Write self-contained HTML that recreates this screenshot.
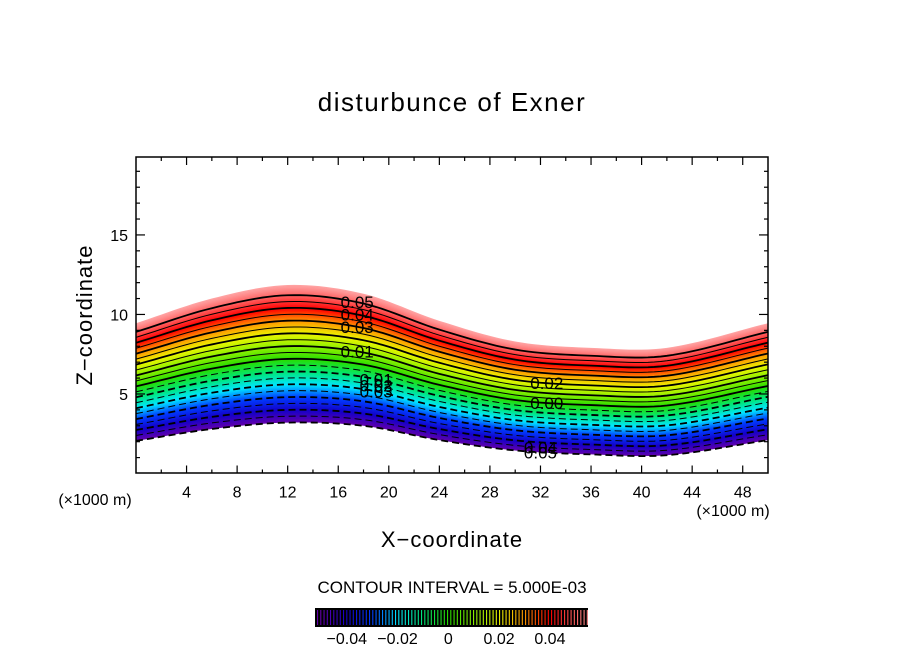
<!DOCTYPE html>
<html><head><meta charset="utf-8"><style>
body{margin:0;background:#fff}
svg{display:block;font-family:"Liberation Sans","DejaVu Sans",sans-serif}
</style></head><body>
<svg id="chart" width="904" height="654" viewBox="0 0 904 654" xmlns="http://www.w3.org/2000/svg">
<text x="452" y="111" font-size="26" text-anchor="middle" letter-spacing="1.5">disturbunce of Exner</text>
<g id="plot"></g>
<rect x="136" y="157" width="632" height="316" fill="none" stroke="#000" stroke-width="1.5"/>
<g id="axes"></g>
<text transform="translate(92,315) rotate(-90)" font-size="22" text-anchor="middle" letter-spacing="1">Z−coordinate</text>
<text x="452" y="547" font-size="22" text-anchor="middle" letter-spacing="1">X−coordinate</text>
<text x="95" y="505" font-size="16" text-anchor="middle">(×1000 m)</text>
<text x="733" y="516" font-size="16" text-anchor="middle">(×1000 m)</text>
<text x="452" y="593" font-size="17" text-anchor="middle">CONTOUR INTERVAL = 5.000E-03</text>
<g id="cbar"></g>
</svg>
<script>
// data
const xSamples=[0,6,12,18,24,30,36,42,50];
const topZ=[9.45,11.0,11.85,11.3,9.6,8.3,7.9,7.9,9.45];
const botZ=[2.05,2.8,3.2,3.0,2.1,1.45,1.2,1.15,2.1];
const vMin=-0.05, vMax=0.058;
const levels=[-0.05,-0.045,-0.04,-0.035,-0.03,-0.025,-0.02,-0.015,-0.01,-0.005,0,0.005,0.01,0.015,0.02,0.025,0.03,0.035,0.04,0.045,0.05];
const labelTexts=["0.05","0.04","0.03","0.01","0.01","0.02","0.03","0.02","0.00","0.04","0.05"];
const labelX=[17.5,17.5,17.5,17.5,19,19,19,32.5,32.5,32,32];
const labelV=[0.05,0.04,0.03,0.01,-0.01,-0.015,-0.02,0.02,0.0,-0.045,-0.05];
const xTicks=[4,8,12,16,20,24,28,32,36,40,44,48];
const yTicks=[5,10,15];
const cbarTicks=[-0.04,-0.02,0,0.02,0.04];
const cbarLabels=["−0.04","−0.02","0","0.02","0.04"];

const NS="http://www.w3.org/2000/svg";
const X0=136,X1=768,Y0=473.5,Y1=157;
const sx=x=>X0+(x/50)*(X1-X0);
const sy=z=>Y0-(z/19.9)*(Y0-Y1);
function interp(arr,x){
 const n=xSamples.length;
 for(let i=0;i<n-1;i++){if(x<=xSamples[i+1]||i===n-2){
  const x0=xSamples[i],x1=xSamples[i+1],h=x1-x0,t=(x-x0)/h;
  const m=j=>{if(j===0)return (arr[1]-arr[0])/(xSamples[1]-xSamples[0]);if(j===n-1)return (arr[n-1]-arr[n-2])/(xSamples[n-1]-xSamples[n-2]);return (arr[j+1]-arr[j-1])/(xSamples[j+1]-xSamples[j-1]);};
  const t2=t*t,t3=t2*t;
  return (2*t3-3*t2+1)*arr[i]+(t3-2*t2+t)*h*m(i)+(-2*t3+3*t2)*arr[i+1]+(t3-t2)*h*m(i+1);}}
}
function zAt(v,x){const f=(v-vMin)/(vMax-vMin);return interp(botZ,x)+f*(interp(topZ,x)-interp(botZ,x));}
function color(v){
 const stops=[[-0.05,[100,0,170]],[-0.04,[20,0,200]],[-0.03,[0,60,255]],[-0.02,[0,230,255]],[-0.01,[0,230,120]],[0,[40,220,0]],[0.01,[140,240,0]],[0.02,[235,245,0]],[0.03,[255,150,0]],[0.04,[255,0,0]],[0.05,[255,100,100]],[0.058,[255,165,165]]];
 for(let i=0;i<stops.length-1;i++){if(v<=stops[i+1][0]){const t=Math.max(0,(v-stops[i][0])/(stops[i+1][0]-stops[i][0]));const c=stops[i][1].map((a,k)=>Math.round(a+(stops[i+1][1][k]-a)*t));return `rgb(${c})`;}}
 return 'rgb(255,165,165)';}
function curve(v){const pts=[];for(let x=0;x<=50.001;x+=0.5)pts.push([sx(x),sy(zAt(v,x))]);return pts;}
const plot=document.getElementById('plot');
const N=108;
for(let i=0;i<N;i++){
 const a=vMin+(vMax-vMin)*i/N,b=vMin+(vMax-vMin)*(i+1)/N;
 const p1=curve(a),p2=curve(b).reverse();
 const p=document.createElementNS(NS,'polygon');
 p.setAttribute('points',p1.concat(p2).map(q=>q.join(',')).join(' '));
 p.setAttribute('fill',color((a+b)/2));
 if(i>0&&i<N-1){p.setAttribute('stroke',color((a+b)/2));p.setAttribute('stroke-width','0.6');}
 
 
 plot.appendChild(p);
}
levels.forEach(v=>{
 const pl=document.createElementNS(NS,'polyline');
 pl.setAttribute('points',curve(v).map(q=>q.join(',')).join(' '));
 pl.setAttribute('fill','none');pl.setAttribute('stroke','#000');
 pl.setAttribute('stroke-width',Math.abs(v*100-Math.round(v*100))<1e-6?'1.8':'1');
 if(v<-1e-9)pl.setAttribute('stroke-dasharray','7,4');
 
 
 plot.appendChild(pl);
});
labelTexts.forEach((t,i)=>{
 const tx=document.createElementNS(NS,'text');
 tx.setAttribute('x',sx(labelX[i]));tx.setAttribute('y',sy(zAt(labelV[i],labelX[i]))+6);
 tx.setAttribute('font-size','17');tx.setAttribute('text-anchor','middle');
 tx.textContent=t;
 
 
 plot.appendChild(tx);
});
const axes=document.getElementById('axes');
function line(x1,y1,x2,y2,name){const l=document.createElementNS(NS,'line');l.setAttribute('x1',x1);l.setAttribute('y1',y1);l.setAttribute('x2',x2);l.setAttribute('y2',y2);l.setAttribute('stroke','#000');l.setAttribute('stroke-width','1.2');
 
 
 axes.appendChild(l);}
function text(x,y,s,name,size,anchor){const t=document.createElementNS(NS,'text');t.setAttribute('x',x);t.setAttribute('y',y);t.setAttribute('font-size',size);t.setAttribute('text-anchor',anchor);t.textContent=s;
 
 
 return t;}
for(let x=2;x<50;x+=2){const maj=x%4===0;const L=maj?8:4;line(sx(x),Y0,sx(x),Y0-L,'x-tick');line(sx(x),Y1,sx(x),Y1+L,'x-tick');}
for(let z=1;z<20;z++){const maj=z%5===0;const L=maj?9:4;line(X0,sy(z),X0+L,sy(z),'y-tick');line(X1,sy(z),X1-L,sy(z),'y-tick');}
xTicks.forEach(x=>axes.appendChild(text(sx(x),Y0+24,String(x),'x-tick-label','16','middle')));
yTicks.forEach(z=>axes.appendChild(text(X0-8,sy(z)+6,String(z),'y-tick-label','16','end')));
const cb=document.getElementById('cbar');
const CX0=315,CX1=588,CY=608,CH=19;
const cbx=v=>CX0+(v-(-0.0525))/(0.1075)*(CX1-CX0);
const r=document.createElementNS(NS,'rect');r.setAttribute('x',CX0);r.setAttribute('y',CY);r.setAttribute('width',CX1-CX0);r.setAttribute('height',CH);r.setAttribute('fill','#000');


cb.appendChild(r);
for(let i=0;i<84;i++){const v=-0.0515+i*0.00128;const l=document.createElementNS(NS,'line');const x=cbx(v);
 l.setAttribute('x1',x);l.setAttribute('x2',x);l.setAttribute('y1',CY+2);l.setAttribute('y2',CY+CH-2);l.setAttribute('stroke',color(v));l.setAttribute('stroke-width','1.1');
 
 
 cb.appendChild(l);}
cbarTicks.forEach((v,i)=>cb.appendChild(text(cbx(v),CY+CH+17,cbarLabels[i],'colorbar-label','16','middle')));
</script>
</body></html>
